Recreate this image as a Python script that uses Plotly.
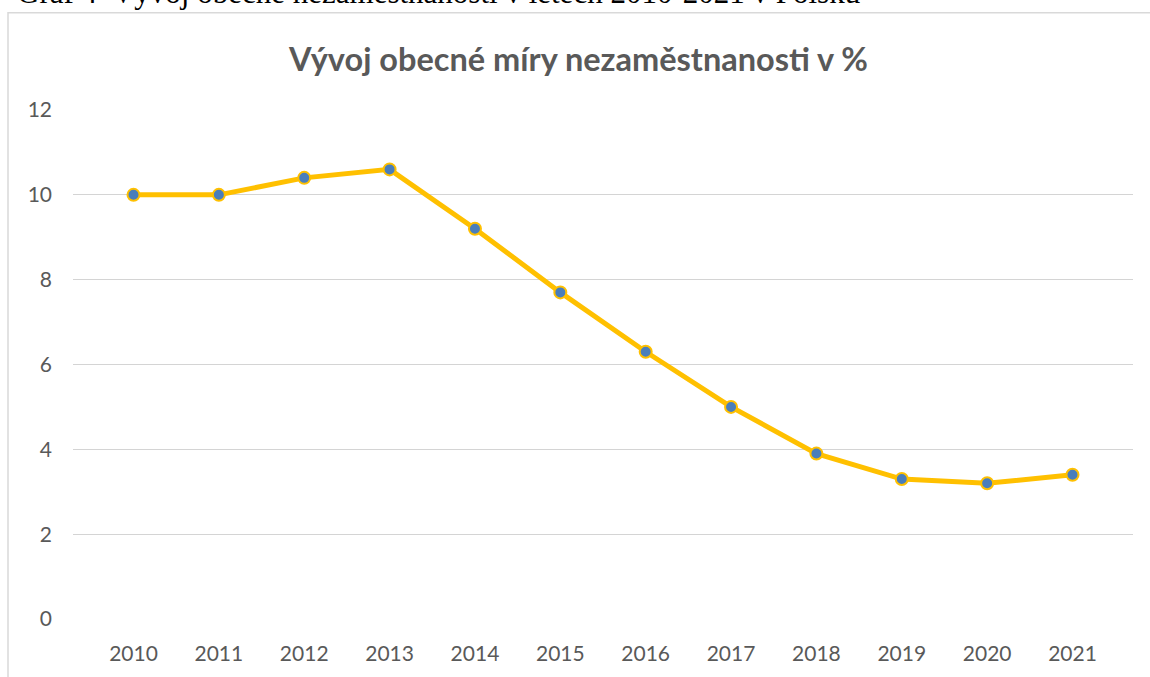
import plotly.graph_objects as go

# data
roky = ["2010", "2011", "2012", "2013", "2014", "2015", "2016", "2017", "2018", "2019", "2020", "2021"]
mira = [10.0, 10.0, 10.4, 10.6, 9.2, 7.7, 6.3, 5.0, 3.9, 3.3, 3.2, 3.4]
y_ticks = [0, 2, 4, 6, 8, 10, 12]

W, H = 1150, 677
ML, MR, MT, MB = 73, 17, 110, 54
pw, ph = W - ML - MR, H - MT - MB

def px_x(x):
    return (x - ML) / pw

def px_y(y):
    return (H - MB - y) / ph

fig = go.Figure()
fig.add_trace(go.Scatter(
    x=roky, y=mira, mode="lines+markers",
    line=dict(color="#FFC000", width=5),
    marker=dict(size=12, color="#4A7EBB", line=dict(color="#FFC000", width=2)),
    hoverinfo="x+y",
))

fig.update_layout(
    width=W, height=H,
    margin=dict(l=ML, r=MR, t=MT, b=MB),
    paper_bgcolor="white", plot_bgcolor="white",
    font=dict(family="Lato, Calibri, sans-serif", color="#595959", size=21),
    showlegend=False,
    title=dict(
        text="<b>Vývoj obecné míry nezaměstnanosti v %</b>",
        x=0.503, xanchor="center", y=1 - 60 / H, yanchor="middle",
        font=dict(size=32.5, color="#595959"),
    ),
)
fig.update_yaxes(
    range=[0, 12], tickvals=y_ticks, showgrid=True, gridcolor="#d4d4d4", gridwidth=1.3,
    zeroline=False, showline=False, ticks="", ticklabelstandoff=20,
    fixedrange=True,
)
fig.update_xaxes(
    showgrid=False, zeroline=False, showline=False, ticks="", ticklabelstandoff=20,
    fixedrange=True,
)

# chart frame (as in the source document)
fig.add_shape(type="rect", xref="paper", yref="paper",
              x0=px_x(8), x1=px_x(1200), y0=px_y(720), y1=px_y(12),
              line=dict(color="#d9d9d9", width=1.5), layer="below")

# document caption, cut off at the top
fig.add_annotation(
    text="Graf 4  Vývoj obecné nezaměstnanosti v letech 2010-2021 v Polsku",
    xref="paper", yref="paper", x=px_x(15), y=px_y(11.5),
    xanchor="left", yanchor="bottom", showarrow=False,
    font=dict(family="Liberation Serif, Times New Roman, serif", size=31, color="black"),
)

fig.write_html("out.html", config={"displayModeBar": False},
               post_script="document.body.style.margin='0';")
